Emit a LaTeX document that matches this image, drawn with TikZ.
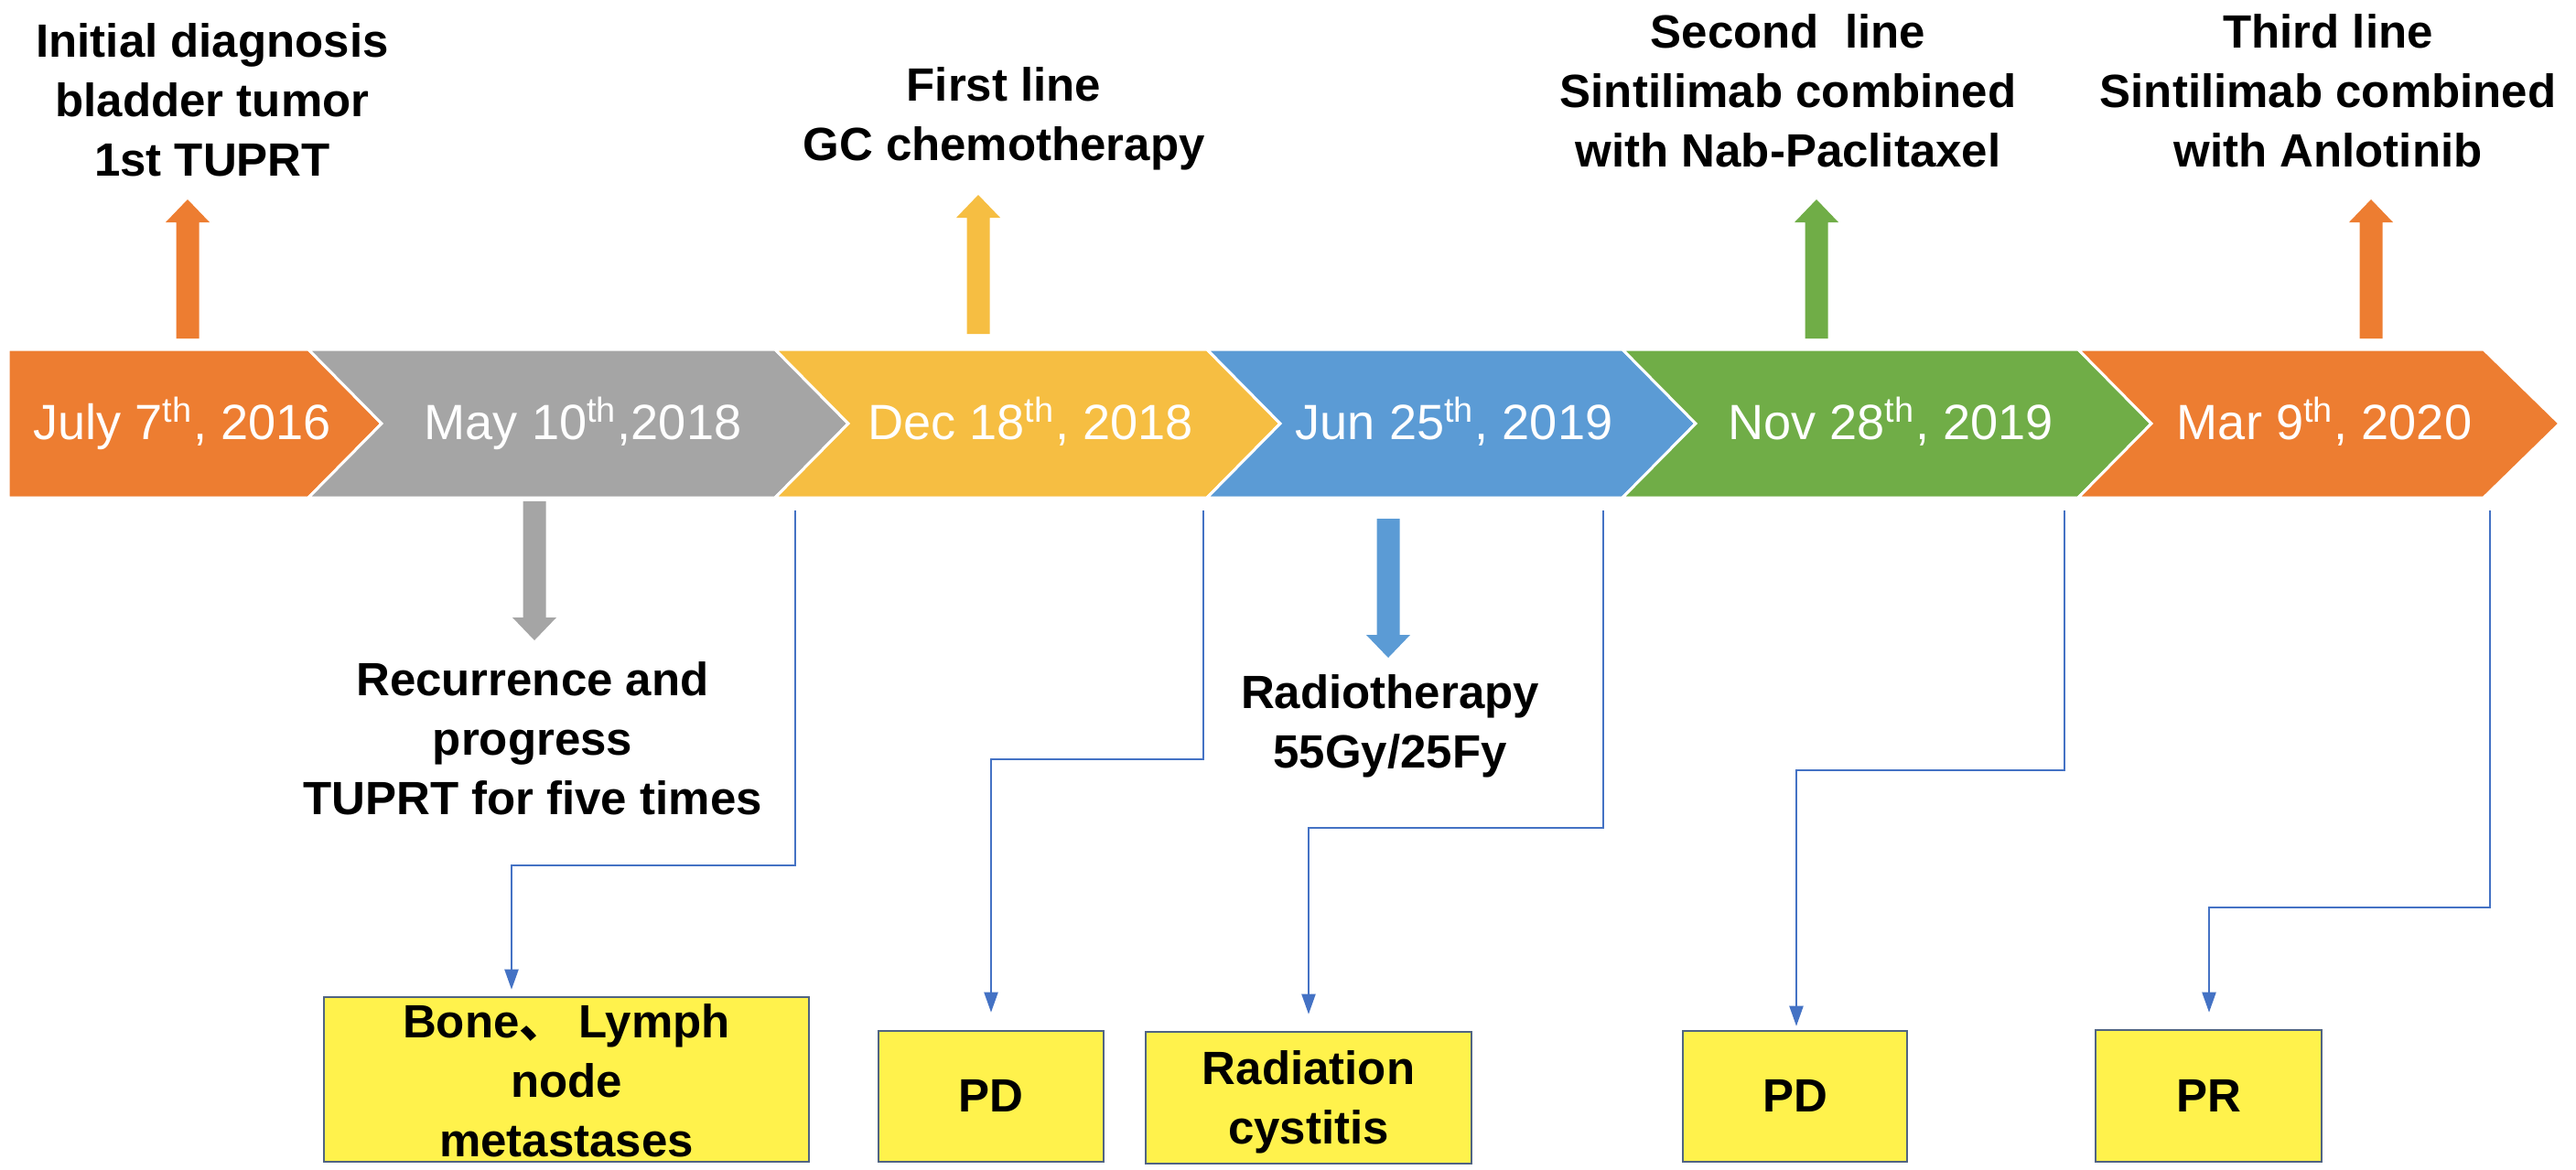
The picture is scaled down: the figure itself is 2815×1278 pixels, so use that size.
\documentclass[tikz,border=0pt]{standalone}
\usepackage{fontspec}
\setmainfont{Liberation Sans}
\newfontfamily\cjkfont{Noto Sans CJK SC}
\usetikzlibrary{arrows.meta}
\definecolor{corange}{RGB}{237,125,49}
\definecolor{cgray}{RGB}{165,165,165}
\definecolor{cyellow}{RGB}{246,190,66}
\definecolor{cblue}{RGB}{91,155,213}
\definecolor{cgreen}{RGB}{112,173,71}
\definecolor{clink}{RGB}{68,114,196}
\definecolor{cbox}{RGB}{255,242,76}
\definecolor{cboxline}{RGB}{80,100,130}
\newcommand{\lbl}[1]{\begin{tabular}[t]{@{}c@{}}#1\end{tabular}}
\tikzset{
  lab/.style={anchor=base, inner sep=0pt, text=black,
    font=\fontsize{14.5}{18.5}\selectfont\bfseries},
  datelab/.style={anchor=base, inner sep=0pt, text=white,
    font=\fontsize{15.4}{18.5}\selectfont},
  resbox/.style={draw=cboxline, line width=0.025cm, fill=cbox, inner sep=0pt},
  conn/.style={draw=clink, line width=0.022cm, -{Triangle[width=0.15cm,length=0.22cm]}},
  seg/.style={draw=white, line width=0.03cm},
  blkarrow/.pic={\fill (-12.5,0) -- (-12.5,-127) -- (-24,-127) -- (0,-152)
      -- (24,-127) -- (12.5,-127) -- (12.5,0) -- cycle;}
}
\begin{document}
\begin{tikzpicture}[x=0.01cm, y=-0.01cm]
\useasboundingbox (0,0) rectangle (2815,1278);

% banner chevrons
\path[fill=corange, seg] (9,382) -- (337,382) -- (417,463) -- (337,544) -- (9,544) -- cycle;
\path[fill=cgray, seg] (337,382) -- (847,382) -- (927,463) -- (847,544) -- (337,544) -- (417,463) -- cycle;
\path[fill=cyellow, seg] (847,382) -- (1319,382) -- (1399,463) -- (1319,544) -- (847,544) -- (927,463) -- cycle;
\path[fill=cblue, seg] (1319,382) -- (1773,382) -- (1853,463) -- (1773,544) -- (1319,544) -- (1399,463) -- cycle;
\path[fill=cgreen, seg] (1773,382) -- (2271,382) -- (2351,463) -- (2271,544) -- (1773,544) -- (1853,463) -- cycle;
\path[fill=corange, seg] (2271,382) -- (2714,382) -- (2797,463) -- (2714,544) -- (2271,544) -- (2351,463) -- cycle;

% dates
\node[datelab] (d1) at (199,480) {July 7\textsuperscript{th}, 2016};
\node[datelab] (d2) at (637,480) {May 10\textsuperscript{th},2018};
\node[datelab] (d3) at (1126,480) {Dec 18\textsuperscript{th}, 2018};
\node[datelab] (d4) at (1589,480) {Jun 25\textsuperscript{th}, 2019};
\node[datelab] (d5) at (2066,480) {Nov 28\textsuperscript{th}, 2019};
\node[datelab] (d6) at (2540,480) {Mar 9\textsuperscript{th}, 2020};

% block arrows
\pic[corange] at (205,370) {blkarrow};
\pic[cyellow] at (1069,365) {blkarrow};
\pic[cgreen] at (1985,370) {blkarrow};
\pic[corange] at (2591,370) {blkarrow};
\pic[cgray, rotate=180] at (584,548) {blkarrow};
\pic[cblue, rotate=180] at (1517,567) {blkarrow};

% top labels
\node[lab] (t1) at (232,62) {\lbl{Initial diagnosis\\bladder tumor\\1st TUPRT}};
\node[lab] (t2) at (1097,110) {\lbl{First line\\GC chemotherapy}};
\node[lab] (t3) at (1954,52) {\lbl{Second~ line\\Sintilimab combined\\with Nab-Paclitaxel}};
\node[lab] (t4) at (2544,52) {\lbl{Third line\\Sintilimab combined\\with Anlotinib}};

% lower labels
\node[lab] (g1) at (582,760) {\lbl{Recurrence and\\progress\\TUPRT for five times}};
\node[lab] (r1) at (1519,774) {\lbl{Radiotherapy\\55Gy/25Fy}};

% result boxes
\node[resbox, minimum width=5.3cm, minimum height=1.8cm] (bone) at (619,1180) {};
\node[resbox, minimum width=2.46cm, minimum height=1.43cm] (pd1) at (1083,1198.5) {};
\node[resbox, minimum width=3.56cm, minimum height=1.44cm] (rad) at (1430,1200) {};
\node[resbox, minimum width=2.45cm, minimum height=1.43cm] (pd2) at (1961.5,1198.5) {};
\node[resbox, minimum width=2.47cm, minimum height=1.44cm] (pr) at (2413.5,1198) {};

\node[lab] (bonet) at (619,1134) {\lbl{Bone{\cjkfont 、} Lymph\\node\\metastases}};
\node[lab] (pd1t) at (1083,1215) {PD};
\node[lab] (radt) at (1430,1185) {\lbl{Radiation\\cystitis}};
\node[lab] (pd2t) at (1961.5,1215) {PD};
\node[lab] (prt) at (2413.5,1215) {PR};

% connectors
\coordinate (s1) at (869,558);  \coordinate (k1) at (559,946);
\coordinate (s2) at (1315,558); \coordinate (k2) at (1083,830);
\coordinate (s3) at (1752,558); \coordinate (k3) at (1430,905);
\coordinate (s4) at (2256,558); \coordinate (k4) at (1963,842);
\coordinate (s5) at (2721,558); \coordinate (k5) at (2414,992);
\draw[conn, shorten >=0.07cm] (s1) |- (k1) -- (k1 |- bone.north);
\draw[conn, shorten >=0.19cm] (s2) |- (k2) -- (k2 |- pd1.north);
\draw[conn, shorten >=0.18cm] (s3) |- (k3) -- (k3 |- rad.north);
\draw[conn, shorten >=0.04cm] (s4) |- (k4) -- (k4 |- pd2.north);
\draw[conn, shorten >=0.18cm] (s5) |- (k5) -- (k5 |- pr.north);
\end{tikzpicture}
\end{document}
